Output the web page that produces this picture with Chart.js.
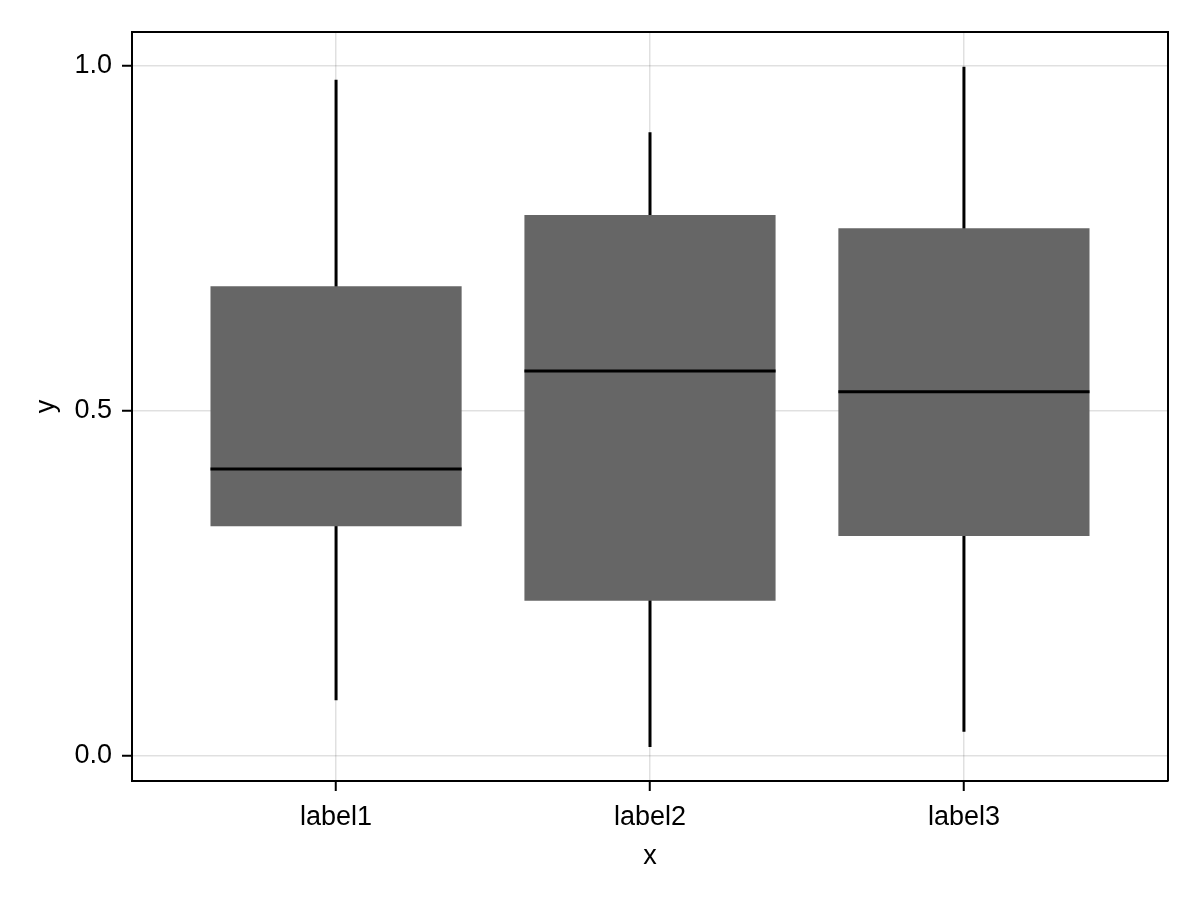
<!DOCTYPE html>
<html>
<head>
<meta charset="utf-8">
<title>Box plot</title>
<script src="https://cdn.jsdelivr.net/npm/chart.js@4.4.1/dist/chart.umd.min.js"></script>
<style>
    html, body { margin: 0; padding: 0; background: #fff; }
    canvas { display: block; }
</style>
</head>
<body>
<canvas id="boxChart" width="1200" height="900"></canvas>
<script>
// Box plot data
const categories = ['label1', 'label2', 'label3'];
const whiskerLow = [0.081, 0.013, 0.035];
const quartile1 = [0.333, 0.225, 0.319];
const medians = [0.416, 0.558, 0.528];
const quartile3 = [0.681, 0.784, 0.765];
const whiskerHigh = [0.980, 0.904, 0.999];
const yTicks = [0, 0.5, 1.0];

const boxWidth = 0.8;

/**
 * Frame around the plot area (top and right sides)
 */
const framePlugin = {
    id: 'frame',
    afterDraw(chart) {
        const { ctx, chartArea } = chart;
        ctx.save();
        ctx.strokeStyle = '#000';
        ctx.lineWidth = 2;
        ctx.beginPath();
        ctx.moveTo(chartArea.left, chartArea.top);
        ctx.lineTo(chartArea.right, chartArea.top);
        ctx.lineTo(chartArea.right, chartArea.bottom);
        ctx.stroke();
        ctx.restore();
    }
};

function buildWhiskers() {
    const pts = [];
    categories.forEach((c, i) => {
        pts.push({ x: i + 1, y: whiskerLow[i] });
        pts.push({ x: i + 1, y: whiskerHigh[i] });
        pts.push({ x: i + 1, y: null });
    });
    return pts;
}

function buildMedians() {
    const pts = [];
    categories.forEach((c, i) => {
        pts.push({ x: i + 1 - boxWidth / 2, y: medians[i] });
        pts.push({ x: i + 1 + boxWidth / 2, y: medians[i] });
        pts.push({ x: i + 1, y: null });
    });
    return pts;
}

Chart.defaults.font.family = '"Liberation Sans", Arial, sans-serif';
Chart.defaults.font.size = 27;
Chart.defaults.color = '#000';

const ctx = document.getElementById('boxChart').getContext('2d');

new Chart(ctx, {
    type: 'bar',
    data: {
        datasets: [{
            type: 'line',
            label: 'whiskers',
            data: buildWhiskers(),
            borderColor: '#000',
            borderWidth: 3,
            pointRadius: 0,
            spanGaps: false,
            order: 3
        }, {
            type: 'bar',
            label: 'boxes',
            data: categories.map((c, i) => ({ x: i + 1, y: [quartile1[i], quartile3[i]] })),
            backgroundColor: '#666666',
            borderWidth: 0,
            categoryPercentage: 1,
            barPercentage: boxWidth,
            order: 2
        }, {
            type: 'line',
            label: 'medians',
            data: buildMedians(),
            borderColor: '#000',
            borderWidth: 3,
            pointRadius: 0,
            spanGaps: false,
            order: 1
        }]
    },
    options: {
        responsive: false,
        animation: false,
        layout: {
            padding: { top: 32, right: 32, left: 0, bottom: 0 }
        },
        plugins: {
            legend: { display: false },
            tooltip: { enabled: false }
        },
        scales: {
            x: {
                type: 'linear',
                min: 0.35,
                max: 3.65,
                offset: false,
                afterFit: scale => { scale.height = 119; },
                afterBuildTicks: scale => {
                    scale.ticks = categories.map((c, i) => ({ value: i + 1 }));
                },
                ticks: {
                    padding: 10,
                    callback: value => categories[value - 1]
                },
                grid: {
                    offset: false,
                    color: 'rgba(0, 0, 0, 0.12)',
                    lineWidth: 1.5,
                    tickColor: '#000',
                    tickWidth: 2,
                    tickLength: 10
                },
                border: { color: '#000', width: 2 },
                title: {
                    display: true,
                    text: 'x',
                    padding: { top: 0, bottom: 27 }
                }
            },
            y: {
                type: 'linear',
                min: -0.0362,
                max: 1.0493,
                afterFit: scale => { scale.width = 132; },
                afterBuildTicks: scale => {
                    scale.ticks = yTicks.map(v => ({ value: v }));
                },
                ticks: {
                    padding: 10,
                    callback: value => value.toFixed(1)
                },
                grid: {
                    color: 'rgba(0, 0, 0, 0.12)',
                    lineWidth: 1.5,
                    tickColor: '#000',
                    tickWidth: 2,
                    tickLength: 10
                },
                border: { color: '#000', width: 2 },
                title: {
                    display: true,
                    text: 'y',
                    padding: { top: 30, bottom: 0 }
                }
            }
        }
    },
    plugins: [framePlugin]
});
</script>
</body>
</html>
